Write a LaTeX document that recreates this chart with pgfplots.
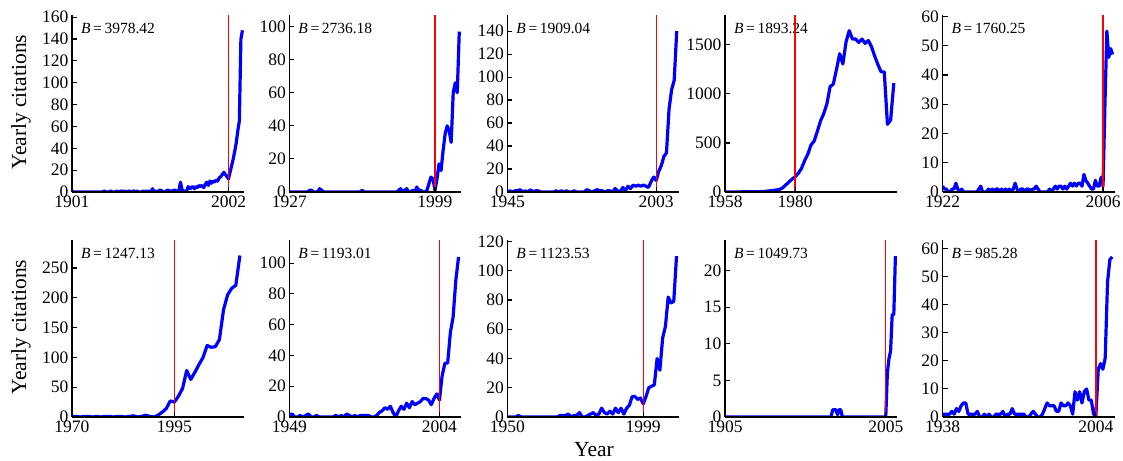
\documentclass[border=0pt]{standalone}
\usepackage{fontspec}
\setmainfont{Liberation Serif}
\usepackage{pgfplots}
\pgfplotsset{compat=1.18}
\pgfplotsset{
  panel/.style={
    scale only axis, width=172pt, height=177pt, anchor=south west,
    axis lines=left, axis line style={-, line width=1.4pt, black},
    axis on top,
    xmax=2012, ymin=0,
    tick align=inside, major tick length=5pt,
    every tick/.style={black, line width=1.1pt},
    tick label style={font=\fontsize{17.5}{18}\selectfont},
    /pgf/number format/assume math mode=true,
    /pgf/number format/1000 sep={},
  },
  cit/.style={blue, line width=3.2pt, line join=round},
  yr/.style={red, line width=1.4pt},
}
\newcommand{\Blabel}[1]{\node[anchor=north west, inner sep=0pt, font=\fontsize{15.5}{16}\selectfont] at (rel axis cs:0.052,1) [yshift=-8pt] {\textit{B}\,=\,#1};}
\begin{document}
\begin{tikzpicture}
\useasboundingbox (0,0) rectangle (1123pt,460pt);
% ---------- Row 1 ----------
\begin{axis}[panel, at={(72pt,268pt)}, xmin=1901, ymax=162, xtick={1901,2002}, ytick={0,20,...,160}]
\addplot[cit] coordinates {(1901,1)(1902,0)(1905,0)(1910,0)(1915,0)(1920,0)(1921,0)(1922,1)(1923,0)(1925,0)(1926,1)(1927,0)(1929,0)(1930,1)(1931,0)(1933,1)(1934,0)(1935,1)(1936,0)(1938,1)(1939,0)(1941,1)(1942,0)(1943,1)(1944,0)(1946,0)(1947,1)(1948,0)(1949,1)(1950,0)(1951,1)(1952,0)(1953,3)(1954,0)(1955,1)(1956,0)(1957,1)(1958,2)(1959,1)(1960,0)(1961,0)(1962,1)(1963,2)(1964,0)(1965,1)(1966,1)(1967,2)(1968,1)(1969,0)(1970,2)(1971,9)(1972,2)(1973,1)(1974,0)(1975,1)(1976,5)(1977,3)(1978,4)(1979,5)(1980,3)(1981,5)(1982,4)(1983,6)(1984,5)(1985,6)(1986,4)(1987,7)(1988,9)(1989,6)(1990,10)(1991,8)(1992,10)(1993,9)(1994,11)(1995,10)(1996,13)(1997,14)(1998,16)(1999,18)(2000,16)(2001,14)(2002,12)(2003,18)(2004,24)(2005,30)(2006,37)(2007,45)(2008,56)(2009,65)(2010,140)(2011,148)};
\Blabel{3978.42}
\addplot[yr] coordinates {(2002,0)(2002,162)};
\end{axis}
\begin{axis}[panel, at={(289.3pt,268pt)}, xmin=1927, ymax=107, xtick={1927,1999}, ytick={0,20,...,100}]
\addplot[cit] coordinates {(1927,0)(1930,0)(1936,0)(1937,1)(1938,1)(1939,0)(1941,0)(1942,2)(1943,1)(1944,0)(1950,0)(1960,0)(1962,0)(1963,1)(1964,0)(1975,0)(1980,0)(1981,1)(1982,2)(1983,0)(1984,1)(1985,2)(1986,0)(1987,0)(1988,1)(1989,0)(1990,3)(1991,1)(1992,1)(1993,0)(1994,0)(1995,1)(1996,5)(1997,9)(1998,8)(1999,1)(2000,8)(2001,17)(2002,13)(2003,25)(2004,35)(2005,40)(2006,37)(2007,30)(2008,60)(2009,66)(2010,60)(2011,97)};
\Blabel{2736.18}
\addplot[yr] coordinates {(1999,0)(1999,107)};
\end{axis}
\begin{axis}[panel, at={(507.3pt,268pt)}, xmin=1945, ymax=154, xtick={1945,2003}, ytick={0,20,...,140}]
\addplot[cit] coordinates {(1945,0)(1946,1)(1947,0)(1948,1)(1949,1)(1950,2)(1951,0)(1952,1)(1953,0)(1954,2)(1955,0)(1956,1)(1957,1)(1958,0)(1960,0)(1963,0)(1964,1)(1965,0)(1966,1)(1967,0)(1968,1)(1969,0)(1970,0)(1971,1)(1972,0)(1975,0)(1976,2)(1977,1)(1978,0)(1979,1)(1980,2)(1981,1)(1982,1)(1983,0)(1984,1)(1985,1)(1986,0)(1987,3)(1988,1)(1989,0)(1990,4)(1991,1)(1992,5)(1993,3)(1994,6)(1995,5)(1996,6)(1997,5)(1998,6)(1999,5)(2000,4)(2001,9)(2002,13)(2003,10)(2004,18)(2005,23)(2006,31)(2007,34)(2008,72)(2009,89)(2010,97)(2011,140)};
\Blabel{1909.04}
\addplot[yr] coordinates {(2003,0)(2003,154)};
\end{axis}
\begin{axis}[panel, at={(725pt,268pt)}, xmin=1958, ymax=1805, xtick={1958,1980}, ytick={0,500,1000,1500}]
\addplot[cit] coordinates {(1958,0)(1960,0)(1962,1)(1964,2)(1966,3)(1968,3)(1970,5)(1971,8)(1972,12)(1973,15)(1974,20)(1975,25)(1976,40)(1977,70)(1978,100)(1979,130)(1980,155)(1981,190)(1982,240)(1983,320)(1984,385)(1985,480)(1986,520)(1987,620)(1988,725)(1989,800)(1990,900)(1991,1075)(1992,1100)(1993,1250)(1994,1410)(1995,1305)(1996,1530)(1997,1645)(1998,1560)(1999,1560)(2000,1525)(2001,1560)(2002,1515)(2003,1545)(2004,1480)(2005,1385)(2006,1300)(2007,1225)(2008,1225)(2009,690)(2010,735)(2011,1110)};
\Blabel{1893.24}
\addplot[yr] coordinates {(1980,0)(1980,1805)};
\end{axis}
\begin{axis}[panel, at={(942.5pt,268pt)}, xmin=1922, ymax=60.5, xtick={1922,2006}, ytick={0,10,...,60}]
\addplot[cit] coordinates {(1922,2)(1923,1)(1924,1)(1925,0)(1926,0)(1927,1)(1928,1)(1929,3)(1930,1)(1931,0)(1932,1)(1933,0)(1940,0)(1941,1)(1942,2)(1943,0)(1945,0)(1946,1)(1947,0)(1948,1)(1949,0)(1950,1)(1951,1)(1952,0)(1953,1)(1954,0)(1955,1)(1956,0)(1957,1)(1958,0)(1959,1)(1960,3)(1961,1)(1962,0)(1963,1)(1964,1)(1965,0)(1966,1)(1967,1)(1968,0)(1969,1)(1970,1)(1971,2)(1972,1)(1973,0)(1974,0)(1975,0)(1976,0)(1977,0)(1978,1)(1979,0)(1980,1)(1981,2)(1982,1)(1983,2)(1984,2)(1985,1)(1986,2)(1987,1)(1988,2)(1989,3)(1990,2)(1991,3)(1992,2)(1993,3)(1994,3)(1995,2)(1996,6)(1997,4)(1998,3)(1999,2)(2000,1)(2001,1)(2002,4)(2003,2)(2004,2)(2005,5)(2006,2)(2007,30)(2008,55)(2009,46)(2010,49)(2011,47)};
\Blabel{1760.25}
\addplot[yr] coordinates {(2006,0)(2006,60.5)};
\end{axis}
% ---------- Row 2 ----------
\begin{axis}[panel, at={(72pt,43pt)}, xmin=1970, ymax=297, xtick={1970,1995}, ytick={0,50,...,250}]
\addplot[cit] coordinates {(1970,1)(1971,1)(1972,0)(1973,1)(1974,1)(1975,0)(1976,1)(1977,0)(1978,1)(1979,1)(1980,0)(1981,1)(1982,1)(1983,0)(1984,1)(1985,2)(1986,0)(1987,1)(1988,3)(1989,1)(1990,0)(1991,3)(1992,8)(1993,14)(1994,27)(1995,25)(1996,35)(1997,48)(1998,78)(1999,63)(2000,75)(2001,88)(2002,100)(2003,120)(2004,117)(2005,118)(2006,130)(2007,180)(2008,205)(2009,216)(2010,221)(2011,271)};
\Blabel{1247.13}
\addplot[yr] coordinates {(1995,0)(1995,297)};
\end{axis}
\begin{axis}[panel, at={(289.3pt,43pt)}, xmin=1949, ymax=115, xtick={1949,2004}, ytick={0,20,...,100}]
\addplot[cit] coordinates {(1949,1)(1950,2)(1951,0)(1952,0)(1953,1)(1954,0)(1955,1)(1956,2)(1957,0)(1958,0)(1959,1)(1960,0)(1965,0)(1966,1)(1967,0)(1968,1)(1969,0)(1970,2)(1971,1)(1972,0)(1973,1)(1974,0)(1975,1)(1976,1)(1977,1)(1978,1)(1979,0)(1980,0)(1981,1)(1982,3)(1983,4)(1984,6)(1985,5)(1986,7)(1987,3)(1988,0)(1989,4)(1990,7)(1991,5)(1992,9)(1993,6)(1994,10)(1995,8)(1996,9)(1997,10)(1998,12)(1999,12)(2000,11)(2001,8)(2002,12)(2003,15)(2004,11)(2005,27)(2006,35)(2007,35)(2008,55)(2009,65)(2010,89)(2011,104)};
\Blabel{1193.01}
\addplot[yr] coordinates {(2004,0)(2004,115)};
\end{axis}
\begin{axis}[panel, at={(507.3pt,43pt)}, xmin=1950, ymax=121, xtick={1950,1999}, ytick={0,20,...,120}]
\addplot[cit] coordinates {(1950,0)(1953,0)(1954,1)(1955,0)(1960,0)(1968,0)(1969,1)(1970,1)(1971,1)(1972,2)(1973,0)(1974,1)(1975,1)(1976,3)(1977,0)(1978,0)(1979,1)(1980,2)(1981,3)(1982,1)(1983,2)(1984,6)(1985,3)(1986,2)(1987,4)(1988,2)(1989,6)(1990,3)(1991,6)(1992,2)(1993,6)(1994,8)(1995,14)(1996,14)(1997,12)(1998,13)(1999,9)(2000,14)(2001,20)(2002,21)(2003,22)(2004,40)(2005,32)(2006,54)(2007,62)(2008,82)(2009,78)(2010,79)(2011,110)};
\Blabel{1123.53}
\addplot[yr] coordinates {(1999,0)(1999,121)};
\end{axis}
\begin{axis}[panel, at={(725pt,43pt)}, xmin=1905, ymax=24.2, xtick={1905,2005}, ytick={0,5,...,20}]
\addplot[cit] coordinates {(1905,0)(1971,0)(1972,1)(1973,1)(1974,1)(1975,0.3)(1976,1)(1977,1)(1978,0)(2005,0)(2006,6)(2007,8)(2008,9)(2009,14)(2010,14)(2011,22)};
\Blabel{1049.73}
\addplot[yr] coordinates {(2005,0)(2005,24.2)};
\end{axis}
\begin{axis}[panel, at={(942.5pt,43pt)}, xmin=1938, ymax=63, xtick={1938,2004}, ytick={0,10,...,60}]
\addplot[cit] coordinates {(1938,1)(1939,1)(1940,1)(1941,1)(1942,2)(1943,1)(1944,3)(1945,2)(1946,4)(1947,5)(1948,5)(1949,1)(1950,1)(1951,1)(1952,1)(1953,2)(1954,0)(1955,0)(1956,1)(1957,0)(1958,1)(1959,0)(1960,0)(1961,1)(1962,1)(1963,1)(1964,2)(1965,0)(1966,1)(1967,1)(1968,3)(1969,1)(1970,1)(1971,1)(1972,1)(1973,1)(1974,0)(1975,0)(1976,1)(1977,2)(1978,1)(1979,0)(1980,0)(1981,1)(1982,3)(1983,5)(1984,4)(1985,4)(1986,4)(1987,2)(1988,2)(1989,5)(1990,4)(1991,4)(1992,5)(1993,4)(1994,1)(1995,9)(1996,6)(1997,9)(1998,5)(1999,9)(2000,10)(2001,6)(2002,6)(2003,1)(2004,0.5)(2005,17)(2006,19)(2007,17)(2008,21)(2009,48)(2010,56)(2011,57)};
\Blabel{985.28}
\addplot[yr] coordinates {(2004,0)(2004,63)};
\end{axis}
% ---------- labels ----------
\node[rotate=90, font=\fontsize{21.5}{22}\selectfont] at (21pt,358pt) {Yearly citations};
\node[rotate=90, font=\fontsize{21.5}{22}\selectfont] at (21pt,133pt) {Yearly citations};
\node[anchor=base, inner sep=0pt, font=\fontsize{21.5}{22}\selectfont] at (594pt,4pt) {Year};
\end{tikzpicture}
\end{document}
